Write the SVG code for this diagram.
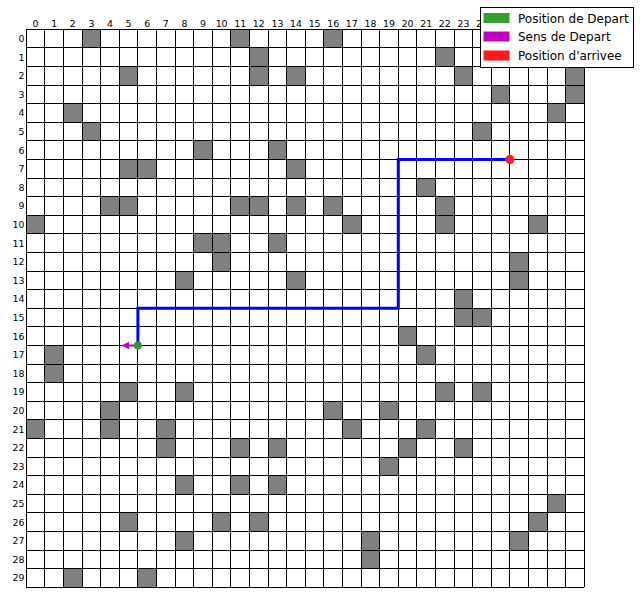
<svg xmlns="http://www.w3.org/2000/svg" width="640" height="608" viewBox="0 0 640 608">
<style>
.lbl{font-family:"DejaVu Sans","Liberation Sans",sans-serif;font-size:9.4px;fill:#000}
.cl{text-anchor:middle}
.rl{text-anchor:end}
.lg{font-family:"DejaVu Sans","Liberation Sans",sans-serif;font-size:12px;fill:#000}
.obs{fill:#808080}
.grid{fill:none;stroke:#000;stroke-width:1;vector-effect:non-scaling-stroke;shape-rendering:crispEdges}
</style>
<rect width="640" height="608" fill="#fff"/>
<g id="grid" transform="translate(26.3 29.3) scale(18.6)">
<g id="obstacles" class="obs" shape-rendering="crispEdges">
<rect x="3" y="0" width="1" height="1"/><rect x="11" y="0" width="1" height="1"/><rect x="16" y="0" width="1" height="1"/>
<rect x="12" y="1" width="1" height="1"/><rect x="22" y="1" width="1" height="1"/>
<rect x="5" y="2" width="1" height="1"/><rect x="12" y="2" width="1" height="1"/><rect x="14" y="2" width="1" height="1"/><rect x="23" y="2" width="1" height="1"/><rect x="29" y="2" width="1" height="1"/>
<rect x="25" y="3" width="1" height="1"/><rect x="29" y="3" width="1" height="1"/>
<rect x="2" y="4" width="1" height="1"/><rect x="28" y="4" width="1" height="1"/>
<rect x="3" y="5" width="1" height="1"/><rect x="24" y="5" width="1" height="1"/>
<rect x="9" y="6" width="1" height="1"/><rect x="13" y="6" width="1" height="1"/>
<rect x="5" y="7" width="1" height="1"/><rect x="6" y="7" width="1" height="1"/><rect x="14" y="7" width="1" height="1"/>
<rect x="21" y="8" width="1" height="1"/>
<rect x="4" y="9" width="1" height="1"/><rect x="5" y="9" width="1" height="1"/><rect x="11" y="9" width="1" height="1"/><rect x="12" y="9" width="1" height="1"/><rect x="14" y="9" width="1" height="1"/><rect x="16" y="9" width="1" height="1"/><rect x="22" y="9" width="1" height="1"/>
<rect x="0" y="10" width="1" height="1"/><rect x="17" y="10" width="1" height="1"/><rect x="22" y="10" width="1" height="1"/><rect x="27" y="10" width="1" height="1"/>
<rect x="9" y="11" width="1" height="1"/><rect x="10" y="11" width="1" height="1"/><rect x="13" y="11" width="1" height="1"/>
<rect x="10" y="12" width="1" height="1"/><rect x="26" y="12" width="1" height="1"/>
<rect x="8" y="13" width="1" height="1"/><rect x="14" y="13" width="1" height="1"/><rect x="26" y="13" width="1" height="1"/>
<rect x="23" y="14" width="1" height="1"/>
<rect x="23" y="15" width="1" height="1"/><rect x="24" y="15" width="1" height="1"/>
<rect x="20" y="16" width="1" height="1"/>
<rect x="1" y="17" width="1" height="1"/><rect x="21" y="17" width="1" height="1"/>
<rect x="1" y="18" width="1" height="1"/>
<rect x="5" y="19" width="1" height="1"/><rect x="8" y="19" width="1" height="1"/><rect x="22" y="19" width="1" height="1"/><rect x="24" y="19" width="1" height="1"/>
<rect x="4" y="20" width="1" height="1"/><rect x="16" y="20" width="1" height="1"/><rect x="19" y="20" width="1" height="1"/>
<rect x="0" y="21" width="1" height="1"/><rect x="4" y="21" width="1" height="1"/><rect x="7" y="21" width="1" height="1"/><rect x="17" y="21" width="1" height="1"/><rect x="21" y="21" width="1" height="1"/>
<rect x="7" y="22" width="1" height="1"/><rect x="11" y="22" width="1" height="1"/><rect x="13" y="22" width="1" height="1"/><rect x="20" y="22" width="1" height="1"/><rect x="23" y="22" width="1" height="1"/>
<rect x="19" y="23" width="1" height="1"/>
<rect x="8" y="24" width="1" height="1"/><rect x="11" y="24" width="1" height="1"/><rect x="13" y="24" width="1" height="1"/>
<rect x="28" y="25" width="1" height="1"/>
<rect x="5" y="26" width="1" height="1"/><rect x="10" y="26" width="1" height="1"/><rect x="12" y="26" width="1" height="1"/><rect x="27" y="26" width="1" height="1"/>
<rect x="8" y="27" width="1" height="1"/><rect x="18" y="27" width="1" height="1"/><rect x="26" y="27" width="1" height="1"/>
<rect x="18" y="28" width="1" height="1"/>
<rect x="2" y="29" width="1" height="1"/><rect x="6" y="29" width="1" height="1"/>
</g>
<path class="grid" d="M0 0H30M0 1H30M0 2H30M0 3H30M0 4H30M0 5H30M0 6H30M0 7H30M0 8H30M0 9H30M0 10H30M0 11H30M0 12H30M0 13H30M0 14H30M0 15H30M0 16H30M0 17H30M0 18H30M0 19H30M0 20H30M0 21H30M0 22H30M0 23H30M0 24H30M0 25H30M0 26H30M0 27H30M0 28H30M0 29H30M0 30H30M0 0V30M1 0V30M2 0V30M3 0V30M4 0V30M5 0V30M6 0V30M7 0V30M8 0V30M9 0V30M10 0V30M11 0V30M12 0V30M13 0V30M14 0V30M15 0V30M16 0V30M17 0V30M18 0V30M19 0V30M20 0V30M21 0V30M22 0V30M23 0V30M24 0V30M25 0V30M26 0V30M27 0V30M28 0V30M29 0V30M30 0V30"/>
</g>
<g id="col-labels" class="lbl cl">
<text x="35.6" y="26.5">0</text><text x="54.2" y="26.5">1</text><text x="72.8" y="26.5">2</text><text x="91.4" y="26.5">3</text><text x="110" y="26.5">4</text><text x="128.6" y="26.5">5</text><text x="147.2" y="26.5">6</text><text x="165.8" y="26.5">7</text><text x="184.4" y="26.5">8</text><text x="203" y="26.5">9</text><text x="221.6" y="26.5">10</text><text x="240.2" y="26.5">11</text><text x="258.8" y="26.5">12</text><text x="277.4" y="26.5">13</text><text x="296" y="26.5">14</text><text x="314.6" y="26.5">15</text><text x="333.2" y="26.5">16</text><text x="351.8" y="26.5">17</text><text x="370.4" y="26.5">18</text><text x="389" y="26.5">19</text><text x="407.6" y="26.5">20</text><text x="426.2" y="26.5">21</text><text x="444.8" y="26.5">22</text><text x="463.4" y="26.5">23</text><text x="482" y="26.5">24</text><text x="500.6" y="26.5">25</text><text x="519.2" y="26.5">26</text><text x="537.8" y="26.5">27</text><text x="556.4" y="26.5">28</text><text x="575" y="26.5">29</text>
</g>
<g id="row-labels" class="lbl rl">
<text x="24.5" y="41.9">0</text><text x="24.5" y="60.5">1</text><text x="24.5" y="79.1">2</text><text x="24.5" y="97.7">3</text><text x="24.5" y="116.3">4</text><text x="24.5" y="134.9">5</text><text x="24.5" y="153.5">6</text><text x="24.5" y="172.1">7</text><text x="24.5" y="190.7">8</text><text x="24.5" y="209.3">9</text><text x="24.5" y="227.9">10</text><text x="24.5" y="246.5">11</text><text x="24.5" y="265.1">12</text><text x="24.5" y="283.7">13</text><text x="24.5" y="302.3">14</text><text x="24.5" y="320.9">15</text><text x="24.5" y="339.5">16</text><text x="24.5" y="358.1">17</text><text x="24.5" y="376.7">18</text><text x="24.5" y="395.3">19</text><text x="24.5" y="413.9">20</text><text x="24.5" y="432.5">21</text><text x="24.5" y="451.1">22</text><text x="24.5" y="469.7">23</text><text x="24.5" y="488.3">24</text><text x="24.5" y="506.9">25</text><text x="24.5" y="525.5">26</text><text x="24.5" y="544.1">27</text><text x="24.5" y="562.7">28</text><text x="24.5" y="581.3">29</text>
</g>
<g id="connectors">
<path id="route" d="M137.9 345.5V308.3H398.3V159.5H509.9" fill="none" stroke="#0000ff" stroke-width="3"/>
<g id="start-direction">
<line x1="137.9" y1="345.5" x2="128" y2="345.5" stroke="#bf00bf" stroke-width="2"/>
<polygon points="121.5,345.5 129,341.8 129,349.2" fill="#bf00bf"/>
</g>
</g>
<g id="start"><circle cx="137.9" cy="345.5" r="4" fill="#2a9a2a"/></g>
<g id="goal"><circle cx="509.9" cy="159.5" r="4.5" fill="#ff1a1a"/></g>
<g id="legend">
<rect x="480.5" y="7.5" width="153" height="60" fill="#fff" stroke="#000" stroke-width="1"/>
<rect x="483.5" y="13" width="26" height="10" fill="#33a033"/>
<rect x="483.5" y="31.5" width="26" height="10" fill="#bf00bf"/>
<rect x="483.5" y="50.5" width="26" height="10" fill="#ff1a1a"/>
<text class="lg" x="518" y="22.5">Position de Depart</text>
<text class="lg" x="518" y="41.3">Sens de Depart</text>
<text class="lg" x="518" y="60">Position d'arrivee</text>
</g>
</svg>
